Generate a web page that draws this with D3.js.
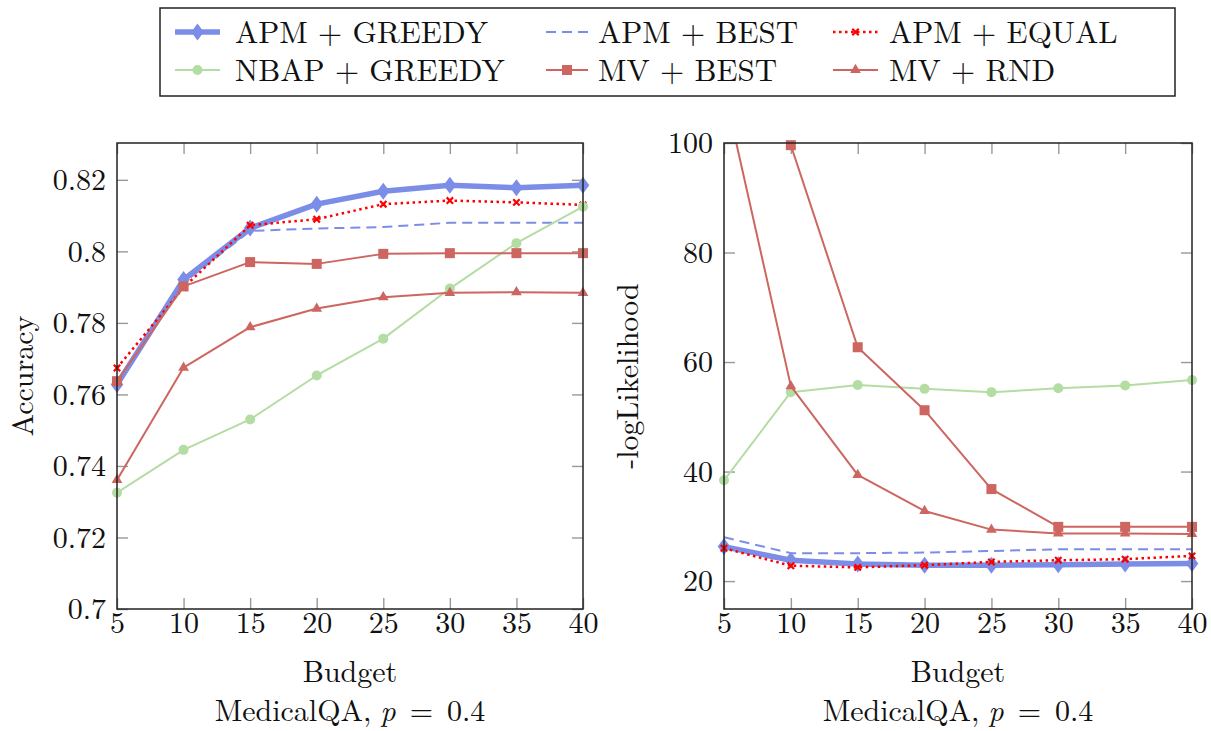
<!DOCTYPE html>
<html><head><meta charset="utf-8">
<script src="https://cdn.jsdelivr.net/npm/d3@7"></script>
<style>body{margin:0;background:#fff}</style>
</head><body>
<svg id="c" width="1211" height="731"></svg>
<script>
// ---------- data ----------
const budgets = [5, 10, 15, 20, 25, 30, 35, 40];
const seriesNames = ["APM + GREEDY", "APM + BEST", "APM + EQUAL", "NBAP + GREEDY", "MV + BEST", "MV + RND"];

const accApmGreedy  = [0.7628, 0.7921, 0.8065, 0.8132, 0.8168, 0.8185, 0.8178, 0.8185];
const accApmBest    = [0.7635, 0.7912, 0.8057, 0.8064, 0.8068, 0.8080, 0.8080, 0.8080];
const accApmEqual   = [0.7674, 0.7899, 0.8073, 0.8090, 0.8132, 0.8142, 0.8137, 0.8130];
const accNbapGreedy = [0.7325, 0.7445, 0.7530, 0.7653, 0.7756, 0.7896, 0.8023, 0.8125];
const accMvBest     = [0.7637, 0.7902, 0.7970, 0.7965, 0.7993, 0.7995, 0.7995, 0.7995];
const accMvRnd      = [0.7361, 0.7675, 0.7788, 0.7840, 0.7872, 0.7884, 0.7886, 0.7884];

const nllApmGreedy  = [26.3, 23.8, 23.1, 22.9, 22.9, 23.0, 23.1, 23.2];
const nllApmBest    = [28.0, 25.1, 25.1, 25.2, 25.5, 25.8, 25.8, 25.8];
const nllApmEqual   = [26.0, 22.8, 22.5, 22.9, 23.5, 23.8, 24.0, 24.6];
const nllNbapGreedy = [38.4, 54.5, 55.8, 55.1, 54.5, 55.2, 55.7, 56.7];
const nllMvBest     = [140, 99.6, 62.7, 51.2, 36.8, 29.9, 29.9, 29.9];
const nllMvRnd      = [110, 55.6, 39.4, 32.8, 29.4, 28.7, 28.7, 28.6];

const accTicks = [0.7, 0.72, 0.74, 0.76, 0.78, 0.8, 0.82];
const accTickLabels = ["0.7", "0.72", "0.74", "0.76", "0.78", "0.8", "0.82"];
const nllTicks = [20, 40, 60, 80, 100];
const nllTickLabels = ["20", "40", "60", "80", "100"];
const xTickLabels = ["5", "10", "15", "20", "25", "30", "35", "40"];

// ---------- styles ----------
const FONT = "Latin Modern Roman";
const BLUE = "#7b8de6", RED = "#ff0000", GREEN = "#b3dda2", MVRED = "#cd6660";
const styles = [
  {color: BLUE,  width: 5.5, dash: null,      mark: "diamond"},
  {color: BLUE,  width: 2,   dash: "10 6",    mark: null},
  {color: RED,   width: 2.5, dash: "2.5 3.5", mark: "cross"},
  {color: GREEN, width: 2,   dash: null,      mark: "circle"},
  {color: MVRED, width: 2,   dash: null,      mark: "square"},
  {color: MVRED, width: 2,   dash: null,      mark: "triangle"}
];

const svg = d3.select("#c");

function font(sel, size) {
  return sel.attr("font-family", FONT).style("font-family", FONT)
    .style("font-size", size + "px").attr("fill", "#111");
}

function drawMark(g, type, color, x, y) {
  if (type === "diamond") {
    g.append("path").attr("d", `M${x},${y-8.5}L${x+6.3},${y}L${x},${y+8.5}L${x-6.3},${y}Z`).attr("fill", color);
  } else if (type === "circle") {
    g.append("circle").attr("cx", x).attr("cy", y).attr("r", 5).attr("fill", color);
  } else if (type === "square") {
    g.append("rect").attr("x", x-5).attr("y", y-5).attr("width", 10).attr("height", 10).attr("fill", color);
  } else if (type === "triangle") {
    const r = 6.2;
    g.append("path").attr("d", `M${x},${y-r}L${x+0.866*r},${y+0.5*r}L${x-0.866*r},${y+0.5*r}Z`).attr("fill", color);
  } else if (type === "cross") {
    const s = 3.2;
    g.append("path").attr("d", `M${x-s},${y-s}L${x+s},${y+s}M${x-s},${y+s}L${x+s},${y-s}`)
      .attr("stroke", color).attr("stroke-width", 2.2).attr("fill", "none");
  }
}

function panel(id, left, right, top, bottom, yDomain, yTicks, yTickLabels, series, yLabel, yLabelX) {
  const x = d3.scaleLinear().domain([5, 40]).range([left, right]);
  const y = d3.scaleLinear().domain(yDomain).range([bottom, top]);
  const g = svg.append("g");

  const tl = 11;
  const gb = g.append("g").attr("transform", `translate(0,${bottom})`)
    .call(d3.axisBottom(x).tickValues(budgets).tickSize(-tl).tickFormat((d, i) => xTickLabels[i]));
  gb.selectAll("text").attr("y", 24).attr("dy", null);
  const gt = g.append("g").attr("transform", `translate(0,${top})`)
    .call(d3.axisTop(x).tickValues(budgets).tickSize(-tl).tickFormat(""));
  const gl = g.append("g").attr("transform", `translate(${left},0)`)
    .call(d3.axisLeft(y).tickValues(yTicks).tickSize(-tl).tickPadding(11).tickFormat((d, i) => yTickLabels[i]));
  gl.selectAll("text").attr("dy", "0.33em");
  const gr = g.append("g").attr("transform", `translate(${right},0)`)
    .call(d3.axisRight(y).tickValues(yTicks).tickSize(-tl).tickFormat(""));
  [gb, gt, gl, gr].forEach(a => {
    a.attr("font-family", FONT);
    a.select(".domain").remove();
    a.selectAll(".tick line").attr("stroke", "#999").attr("stroke-width", 1.4);
    font(a.selectAll("text"), 30);
  });

  svg.append("clipPath").attr("id", id).append("rect")
    .attr("x", left).attr("y", top).attr("width", right - left).attr("height", bottom - top);

  const line = d3.line().x((d, i) => x(budgets[i])).y(d => y(d));
  series.forEach((vals, k) => {
    const st = styles[k];
    const sg = g.append("g");
    sg.append("path").attr("d", line(vals)).attr("fill", "none")
      .attr("stroke", st.color).attr("stroke-width", st.width)
      .attr("stroke-dasharray", st.dash).attr("stroke-linejoin", "round")
      .attr("clip-path", `url(#${id})`);
    if (st.mark) {
      vals.forEach((v, i) => {
        if (v <= yDomain[1] && v >= yDomain[0]) drawMark(sg, st.mark, st.color, x(budgets[i]), y(v));
      });
    }
  });

  g.append("rect").attr("x", left).attr("y", top).attr("width", right - left).attr("height", bottom - top)
    .attr("fill", "none").attr("stroke", "#222").attr("stroke-width", 1.5);

  const cx = (left + right) / 2;
  font(g.append("text"), 30).attr("x", cx).attr("y", 682).attr("text-anchor", "middle").text("Budget");
  const cap = font(g.append("text"), 30).attr("x", cx).attr("y", 721).attr("text-anchor", "middle");
  cap.append("tspan").text("MedicalQA,");
  cap.append("tspan").attr("dx", 9).style("font-style", "italic").text("p");
  cap.append("tspan").attr("dx", 14).text("=");
  cap.append("tspan").attr("dx", 14).text("0.4");
  font(g.append("text"), 30).attr("transform", `translate(${yLabelX},${(top + bottom) / 2}) rotate(-90)`)
    .attr("text-anchor", "middle").text(yLabel);
}

panel("clipL", 117, 583, 143, 609, [0.7, 0.8303], accTicks, accTickLabels,
  [accApmGreedy, accApmBest, accApmEqual, accNbapGreedy, accMvBest, accMvRnd], "Accuracy", 33);
panel("clipR", 724, 1192, 143, 609, [14.9, 100], nllTicks, nllTickLabels,
  [nllApmGreedy, nllApmBest, nllApmEqual, nllNbapGreedy, nllMvBest, nllMvRnd], "-logLikelihood", 638);

// ---------- legend ----------
const lg = svg.append("g");
lg.append("rect").attr("x", 160).attr("y", 8).attr("width", 1015).attr("height", 88)
  .attr("fill", "#fff").attr("stroke", "#222").attr("stroke-width", 1.5);
const colLine = [[175, 220], [546, 588], [833, 878]];
const colText = [235, 598, 889];
const rowY = [32, 70];
seriesNames.forEach((name, k) => {
  const c = k % 3, r = Math.floor(k / 3);
  const st = styles[k];
  const yy = rowY[r];
  lg.append("line").attr("x1", colLine[c][0]).attr("x2", colLine[c][1]).attr("y1", yy).attr("y2", yy)
    .attr("stroke", st.color).attr("stroke-width", st.width).attr("stroke-dasharray", st.dash);
  if (st.mark) drawMark(lg, st.mark, st.color, (colLine[c][0] + colLine[c][1]) / 2, yy);
  font(lg.append("text"), 31).attr("x", colText[c]).attr("y", yy + 11).text(name);
});
</script>
</body></html>
